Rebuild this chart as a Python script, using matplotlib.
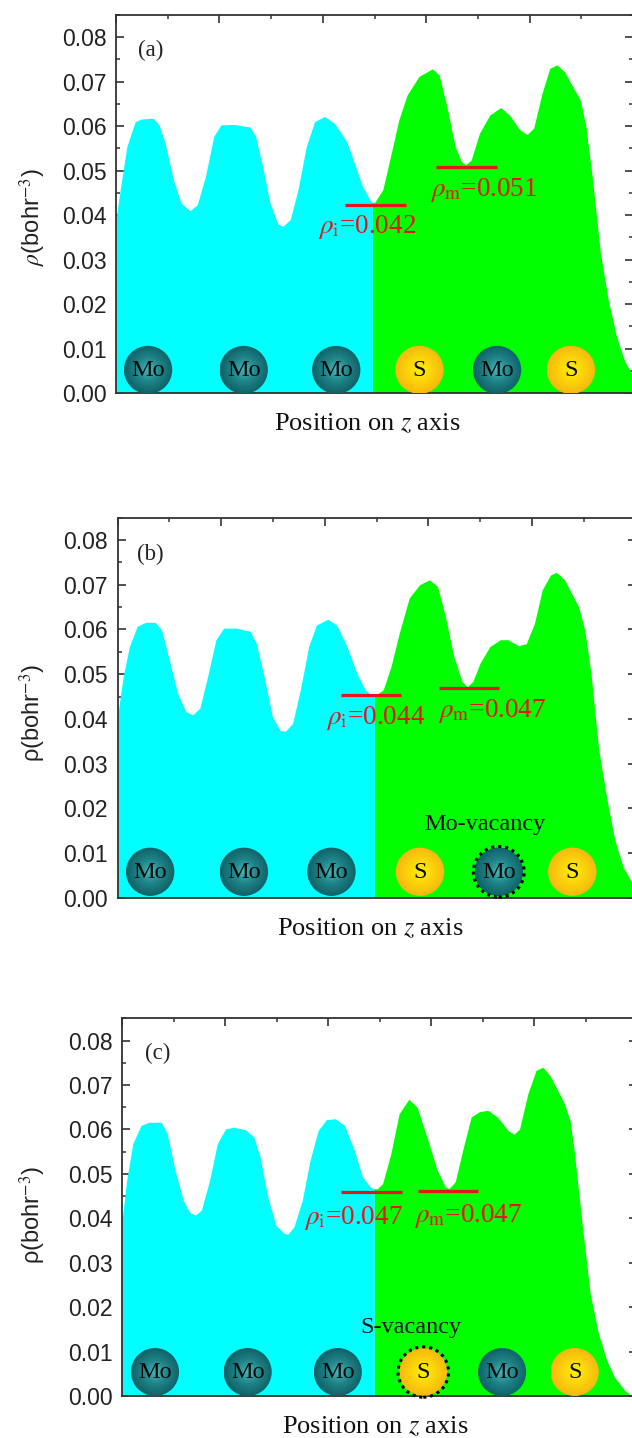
import numpy as np
import matplotlib
matplotlib.use("Agg")
import matplotlib.pyplot as plt
from matplotlib.patches import Ellipse
from matplotlib.colors import LinearSegmentedColormap
from matplotlib.ticker import MultipleLocator

plt.rcParams['font.family'] = ['Liberation Sans', 'DejaVu Sans']
plt.rcParams['mathtext.fontset'] = 'stix'

W, H = 632, 1438

# Panel (a)
z_a = [0, .09, .21, .37, .48, .72, .83, .95, 1.11, 1.26, 1.43, 1.57, 1.73, 1.89, 2.03, 2.28, 2.59, 2.70, 2.82, 2.98,
       3.13, 3.23, 3.37, 3.52, 3.68, 3.84, 4.03, 4.22, 4.46, 4.61, 4.77, 4.93, 4.96, 5.0, 5.16, 5.31, 5.47, 5.63, 5.86,
       6.12, 6.25, 6.40, 6.56, 6.68, 6.76, 6.87, 7.03, 7.23, 7.44, 7.61, 7.81, 7.95, 8.08, 8.24, 8.39, 8.53, 8.67,
       8.98, 9.09, 9.21, 9.37, 9.52, 9.68, 9.84, 10]
rho_a = [.039, .0464, .0554, .0610, .0616, .0618, .0603, .0562, .0479, .0427, .0410, .0423, .0487, .0577, .0603,
         .0604, .0598, .0577, .0517, .0427, .0380, .0375, .0390, .0457, .0554, .0610, .0622, .0607, .0566, .0517,
         .0464, .0431, .0429, .0428, .0457, .0532, .0614, .0670, .0712, .0729, .0715, .0644, .0554, .0521, .0513,
         .0524, .0584, .0625, .0642, .0625, .0592, .0581, .0596, .0674, .0730, .0738, .0723, .0659, .0599, .0487,
         .0315, .0210, .0127, .0071, .004]

# Panel (b)
z_b = [0, .11, .23, .38, .54, .73, .85, 1.0, 1.16, 1.32, 1.45, 1.59, 1.74, 1.90, 2.05, 2.29, 2.56, 2.68, 2.83, 2.99,
       3.14, 3.24, 3.38, 3.53, 3.69, 3.84, 4.06, 4.23, 4.43, 4.62, 4.78, 4.93, 4.96, 5.13, 5.28, 5.44, 5.63, 5.83,
       6.02, 6.18, 6.33, 6.49, 6.65, 6.75, 6.86, 7.0, 7.19, 7.39, 7.54, 7.74, 7.89, 8.05, 8.2, 8.36, 8.47, 8.63,
       8.9, 9.02, 9.14, 9.29, 9.45, 9.6, 9.76, 9.94, 10]
rho_b = [.0405, .0495, .0562, .0607, .0616, .0616, .0599, .0532, .0457, .0416, .0409, .0424, .0495, .0577, .0603,
         .0603, .0596, .0569, .0495, .0405, .0374, .0372, .0390, .0465, .0562, .0610, .0623, .0610, .0562, .0502,
         .0465, .0451, .0451, .0465, .0517, .0592, .0670, .0700, .0711, .0696, .0629, .0540, .0484, .0472, .0484,
         .0525, .0562, .0577, .0577, .0564, .0568, .0614, .0689, .0722, .0728, .0711, .0651, .0599, .0502, .0331,
         .0219, .0129, .0069, .0032, .0025]

# Panel (c)
z_c = [0, .09, .21, .37, .52, .76, .88, 1.03, 1.19, 1.31, 1.42, 1.54, 1.70, 1.85, 2.01, 2.17, 2.40, 2.56, 2.68, 2.83,
       2.99, 3.15, 3.22, 3.34, 3.50, 3.65, 3.81, 3.97, 4.14, 4.32, 4.51, 4.67, 4.83, 4.90, 4.95, 5.06, 5.22, 5.38,
       5.57, 5.73, 5.92, 6.12, 6.28, 6.35, 6.47, 6.63, 6.78, 6.94, 7.10, 7.29, 7.49, 7.61, 7.72, 7.88, 8.04, 8.17,
       8.31, 8.58, 8.7, 8.78, 8.94, 9.09, 9.25, 9.41, 9.56, 9.76, 9.9, 10]
rho_c = [.0395, .0485, .0568, .0609, .0616, .0616, .0590, .0508, .0440, .0414, .0407, .0418, .0485, .0568, .0601,
         .0605, .0599, .0583, .0538, .0448, .0384, .0366, .0364, .0381, .0440, .0530, .0598, .0622, .0624, .0609,
         .0553, .0493, .0469, .0467, .0466, .0478, .0545, .0635, .0668, .0650, .0583, .0508, .0470, .0467, .0482,
         .0560, .0628, .0640, .0643, .0628, .0598, .0589, .0601, .0680, .0733, .0740, .0721, .0661, .0620, .0553,
         .0381, .0231, .0141, .0081, .0043, .0013, 0, 0]

atoms = ['Mo', 'Mo', 'Mo', 'S', 'Mo', 'S']
rho_i = ['0.042', '0.044', '0.047']
rho_m = ['0.051', '0.047', '0.047']
level_i = [.0423, .0454, .0460]
level_m = [.0508, .0469, .0461]

mo_cmap = LinearSegmentedColormap.from_list('mo', ['#45b9bd', '#1f8488', '#0f6267'])
s_cmap = LinearSegmentedColormap.from_list('s', ['#fff200', '#fbd40a', '#f7b80f'])

fig = plt.figure(figsize=(W / 100, H / 100), dpi=100)


def atom(ax, x, y, name, dotted=False):
    # ball with radial gradient, clipped by an ellipse
    w, h = .935, .0108
    cmap = mo_cmap if name == 'Mo' else s_cmap
    gx, gy = np.meshgrid(np.linspace(-1, 1, 80), np.linspace(-1, 1, 80))
    im = ax.imshow(np.hypot(gx, gy), cmap=cmap, vmin=0, vmax=1, aspect='auto', zorder=3,
                   extent=(x - w / 2, x + w / 2, y - h / 2, y + h / 2), interpolation='bilinear')
    clip = Ellipse((x, y), w, h, transform=ax.transData, fc='none', ec='none')
    ax.add_patch(clip)
    im.set_clip_path(clip)
    if dotted:
        ax.add_patch(Ellipse((x, y), w * 1.05, h * 1.05, fc='none', ec='black', lw=2.2,
                             ls=(0, (1, 1.3)), zorder=4, clip_on=False))
    ax.text(x, y - .0002, name, ha='center', va='center', fontsize=17.5, color='#0a0a0a',
            family='Liberation Serif', zorder=5)


def panel(left, top, bottom, span, z, rho, split, letter, letter_pos, atom_z, atom_y, idx,
          i_span, m_span, i_pos, m_pos, ylab, ylab_y, xlab_x, xlab_y, dotted=None):
    ax = fig.add_axes([left / W, 1 - bottom / H, span / W, (bottom - top) / H])
    z = np.array(z)
    rho = np.array(rho)
    ax.fill_between(z[z <= split], 0, rho[z <= split], color='#00ffff', lw=0, zorder=1)
    ax.fill_between(z[z >= split], 0, rho[z >= split], color='#00ff00', lw=0, zorder=1)

    ax.hlines(level_i[idx], i_span[0], i_span[1], color='#e8141c', lw=2.3, zorder=3)
    ax.hlines(level_m[idx], m_span[0], m_span[1], color='#e8141c', lw=2.3, zorder=3)
    ax.text(i_pos[0], i_pos[1], r'$\rho_{\mathrm{i}}$=' + rho_i[idx], color='#e8141c', fontsize=19.5,
            family='Liberation Serif', va='baseline', zorder=3)
    ax.text(m_pos[0], m_pos[1], r'$\rho_{\mathrm{m}}$=' + rho_m[idx], color='#e8141c', fontsize=19.5,
            family='Liberation Serif', va='baseline', zorder=3)
    ax.text(letter_pos[0], letter_pos[1], letter, fontsize=16.5, family='Liberation Serif', color='#222222',
            va='baseline')

    for k in range(len(atoms)):
        atom(ax, atom_z[k], atom_y, atoms[k], dotted=(dotted == k))

    ax.set_xlim(0, 10)
    ax.set_ylim(0, .085)
    ax.set_axisbelow(True)
    ax.xaxis.set_major_locator(MultipleLocator(2))
    ax.xaxis.set_minor_locator(MultipleLocator(1))
    ax.yaxis.set_major_locator(MultipleLocator(.01))
    ax.yaxis.set_minor_locator(MultipleLocator(.005))
    ax.yaxis.set_major_formatter('{x:.2f}')
    ax.tick_params(which='major', direction='in', length=5.5, width=1.2, top=True, right=True, bottom=False,
                   labelbottom=False, labelsize=16.5, pad=7, color='#333333', labelcolor='#222222')
    ax.tick_params(which='minor', direction='in', length=3, width=1.1, top=True, right=True, bottom=False,
                   color='#333333')
    for s in ax.spines.values():
        s.set_linewidth(1.3)
        s.set_color('#333333')

    fig.text(33 / W, 1 - ylab_y / H, ylab, rotation=90, ha='center', va='center', fontsize=17, color='#222222')
    fig.text(xlab_x / W, 1 - xlab_y / H, 'Position on $z$ axis', ha='center', va='baseline', fontsize=19,
             family='Liberation Serif', color='#111111')
    return ax


panel(116, 15, 393, 517, z_a, rho_a, 4.96, '(a)', (.42, .0757), [.62, 2.47, 4.26, 5.87, 7.37, 8.8], .0052, 0,
      (4.43, 5.6), (6.19, 7.36), (3.91, .036), (6.08, .0442), r'$\rho$(bohr$^{-3}$)', 217, 367, 430)

ax_b = panel(117.5, 517.7, 897.7, 518, z_b, rho_b, 4.96, '(b)', (.37, .0756), [.63, 2.44, 4.13, 5.84, 7.36, 8.78],
             .0058, 1, (4.31, 5.48), (6.2, 7.37), (4.02, .0389), (6.18, .0405), '\u03c1(bohr$^{-3}$)', 713, 370.6, 935,
             dotted=4)
ax_b.text(5.92, .0151, 'Mo-vacancy', fontsize=17.5, family='Liberation Serif', color='#111111', va='baseline')

ax_c = panel(122, 1018.3, 1396, 515, z_c, rho_c, 4.90, '(c)', (.45, .0759), [.64, 2.44, 4.19, 5.85, 7.38, 8.79],
             .0054, 2, (4.26, 5.43), (5.74, 6.91), (3.54, .0388), (5.67, .0392), '\u03c1(bohr$^{-3}$)', 1215, 375, 1433,
             dotted=3)
ax_c.text(4.62, .0141, 'S-vacancy', fontsize=17.5, family='Liberation Serif', color='#111111', va='baseline')

fig.savefig('out.png', dpi=100)
